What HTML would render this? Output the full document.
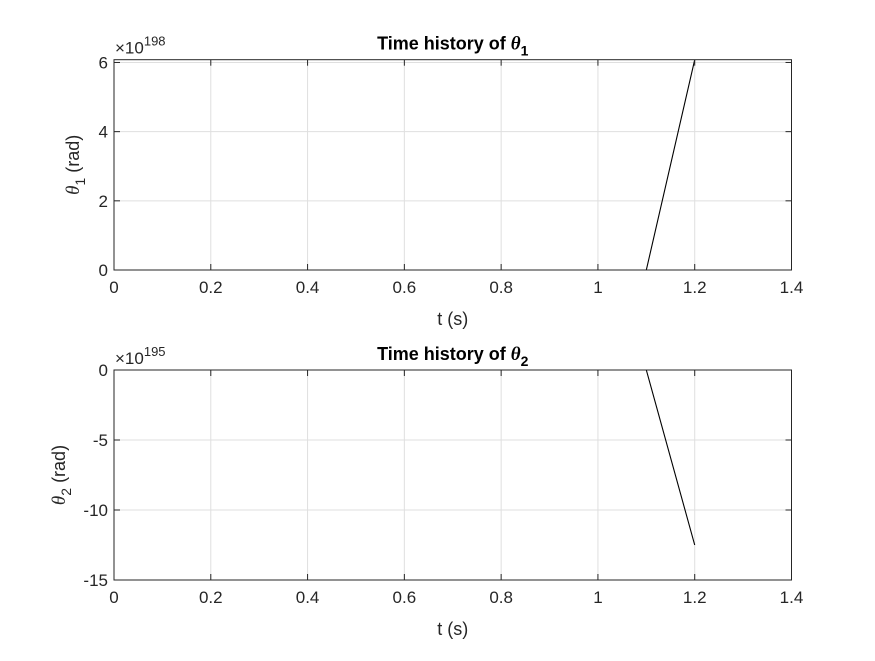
<!DOCTYPE html>
<html><head><meta charset="utf-8"><style>
body{margin:0;background:#fff}
svg{font-family:"Liberation Sans",sans-serif}
</style></head><body>
<svg id="c" width="875" height="656"></svg>
<script>
const tVals=[0,0.1,0.2,0.3,0.4,0.5,0.6,0.7,0.8,0.9,1.0,1.1,1.2];
const theta1=[0,0,0,0,0,0,0,0,0,0,0,0,6.08];
const theta2=[0,0,0,0,0,0,0,0,0,0,0,0,-12.5];
const xTicks=[0,0.2,0.4,0.6,0.8,1,1.2,1.4];
const y1Ticks=[0,2,4,6];
const y2Ticks=[0,-5,-10,-15];
const NS="http://www.w3.org/2000/svg";
const svg=document.getElementById('c');
function mk(tag,attrs,parent,text){const e=document.createElementNS(NS,tag);for(const k in attrs)e.setAttribute(k,attrs[k]);if(text!==undefined)e.textContent=text;(parent||svg).appendChild(e);return e;}
function panel(o){
  const L=114,R=791.5;
  const xs=v=>L+(v-0)/1.4*(R-L);
  const ys=v=>o.bot+(v-o.ymin)/(o.ymax-o.ymin)*(o.top-o.bot);
  const g=mk('g',{});
  
  
  xTicks.forEach(t=>{const l=mk('line',{x1:xs(t),x2:xs(t),y1:o.top,y2:o.bot,stroke:'#dfdfdf','stroke-width':1},g);});
  o.yt.forEach(t=>{const l=mk('line',{x1:L,x2:R,y1:ys(t),y2:ys(t),stroke:'#dfdfdf','stroke-width':1},g);});
  const pts=tVals.map((t,i)=>xs(t)+','+ys(o.data[i])).join(' ');
  const pl=mk('polyline',{points:pts,fill:'none',stroke:'#000','stroke-width':1.1},g);
  
  
  const box=mk('rect',{x:L,y:o.top,width:R-L,height:o.bot-o.top,fill:'none',stroke:'#262626','stroke-width':1},g);
  
  
  xTicks.forEach(t=>{
    mk('line',{x1:xs(t),x2:xs(t),y1:o.bot,y2:o.bot-6,stroke:'#262626'},g);
    mk('line',{x1:xs(t),x2:xs(t),y1:o.top,y2:o.top+6,stroke:'#262626'},g);
    const tx=mk('text',{x:xs(t),y:o.bot+23,'text-anchor':'middle','font-size':17,fill:'#262626'},g,String(t));
    
    
  });
  o.yt.forEach(t=>{
    mk('line',{x1:L,x2:L+6,y1:ys(t),y2:ys(t),stroke:'#262626'},g);
    mk('line',{x1:R,x2:R-6,y1:ys(t),y2:ys(t),stroke:'#262626'},g);
    const tx=mk('text',{x:L-6,y:ys(t)+6,'text-anchor':'end','font-size':17,fill:'#262626'},g,String(t));
    
    
  });
  const ex=mk('text',{x:L+1,y:o.top-6,'font-size':17,fill:'#262626'},g);
  
  
  ex.innerHTML='×10<tspan dy="-8" font-size="13">'+o.exp+'</tspan>';
  const xl=mk('text',{x:(L+R)/2,y:o.bot+55,'text-anchor':'middle','font-size':18,fill:'#262626'},g,'t (s)');
  
  
  const yl=mk('text',{transform:`translate(${o.ylx},${(o.top+o.bot)/2}) rotate(-90)`,'text-anchor':'middle','font-size':18,fill:'#262626'},g);
  
  
  yl.innerHTML='<tspan font-family="Liberation Serif" font-style="italic" font-size="19">θ</tspan><tspan dy="6" font-size="14">'+o.sub+'</tspan><tspan dy="-6"> (rad)</tspan>';
  const ti=mk('text',{x:(L+R)/2,y:o.top-10,'text-anchor':'middle','font-size':18,'font-weight':'bold',fill:'#000'},g);
  
  
  ti.innerHTML='Time history of <tspan font-family="Liberation Serif" font-style="italic" font-size="19">θ</tspan><tspan dy="6" font-size="14">'+o.sub+'</tspan>';
}
panel({name:'theta1-panel',top:59.7,bot:270,ymin:0,ymax:6.08,yt:y1Ticks,data:theta1,exp:'198',sub:'1',ylx:79});
panel({name:'theta2-panel',top:370,bot:580,ymin:-15,ymax:0,yt:y2Ticks,data:theta2,exp:'195',sub:'2',ylx:65});
</script>
</body></html>
